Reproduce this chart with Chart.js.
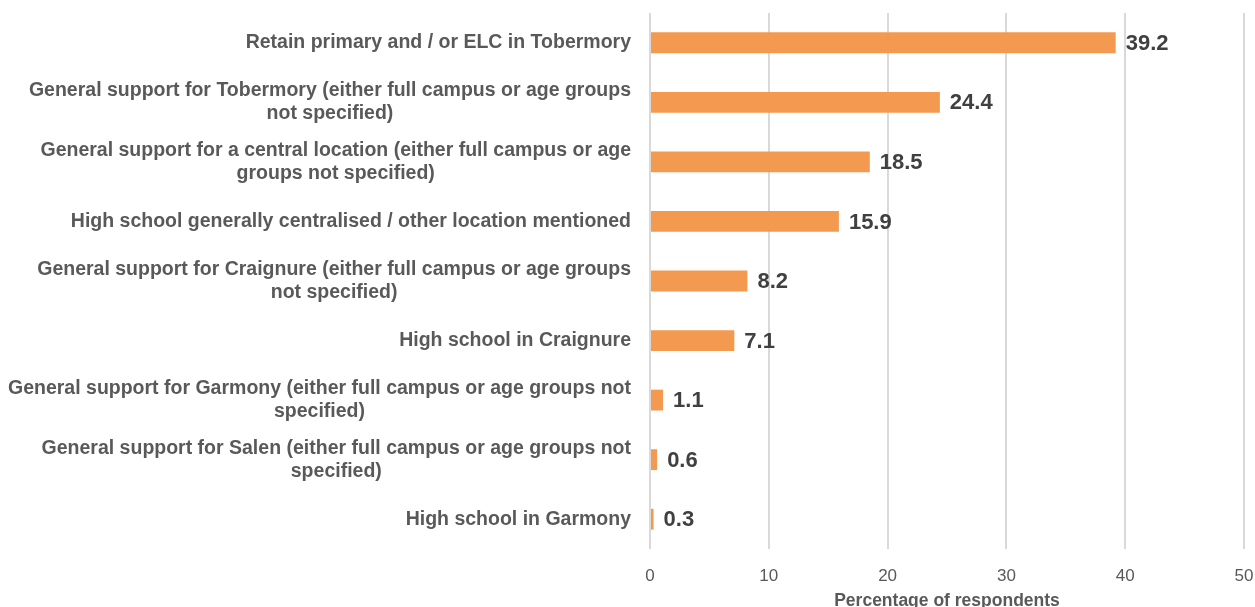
<!DOCTYPE html>
<html>
<head>
<meta charset="utf-8">
<script src="https://cdn.jsdelivr.net/npm/chart.js@4"></script>
<style>
html,body{margin:0;padding:0;background:#fff;}
#wrap{width:1255px;height:607px;position:relative;}
</style>
</head>
<body>
<div id="wrap"><canvas id="c" width="1255" height="607"></canvas></div>
<script>
const categories = [
  "Retain primary and / or ELC in Tobermory",
  ["General support for Tobermory (either full campus or age groups", "not specified)"],
  ["General support for a central location (either full campus or age", "groups not specified)"],
  "High school generally centralised / other location mentioned",
  ["General support for Craignure (either full campus or age groups", "not specified)"],
  "High school in Craignure",
  ["General support for Garmony (either full campus or age groups not", "specified)"],
  ["General support for Salen (either full campus or age groups not", "specified)"],
  "High school in Garmony"
];
const values = [39.2, 24.4, 18.5, 15.9, 8.2, 7.1, 1.1, 0.6, 0.3];
const xTicks = [0, 10, 20, 30, 40, 50];
const xTitle = "Percentage of respondents";

const FONT = '"Liberation Sans", Arial, sans-serif';

const customLabels = {
  id: 'customLabels',
  afterDatasetsDraw(chart) {
    const ctx = chart.ctx;
    const meta = chart.getDatasetMeta(0);
    const yScale = chart.scales.y;
    ctx.save();
    // value labels
    ctx.font = 'bold 22px ' + FONT;
    ctx.fillStyle = '#404040';
    ctx.textAlign = 'left';
    ctx.textBaseline = 'middle';
    meta.data.forEach((bar, i) => {
      ctx.fillText(values[i].toFixed(1), bar.x + 10, bar.y + 1);
    });
    // category labels: block right-aligned, lines centered
    ctx.font = 'bold 19.5px ' + FONT;
    ctx.fillStyle = '#595959';
    ctx.textAlign = 'center';
    const lineH = 23;
    const rightX = chart.chartArea.left - 19;
    categories.forEach((lab, i) => {
      const lines = Array.isArray(lab) ? lab : [lab];
      const w = Math.max(...lines.map(l => ctx.measureText(l).width));
      const cx = rightX - w / 2;
      const cy = yScale.getPixelForValue(i);
      const y0 = cy - (lines.length - 1) * lineH / 2;
      lines.forEach((l, j) => ctx.fillText(l, cx, y0 + j * lineH));
    });
    ctx.restore();
  }
};

new Chart(document.getElementById('c'), {
  type: 'bar',
  data: {
    labels: categories,
    datasets: [{
      data: values,
      backgroundColor: '#F39A50',
      borderWidth: 0,
      barPercentage: 0.7,
      categoryPercentage: 0.5
    }]
  },
  options: {
    indexAxis: 'y',
    responsive: false,
    animation: false,
    layout: { padding: { top: 13, right: 11, left: 0, bottom: 0 } },
    plugins: {
      legend: { display: false },
      tooltip: { enabled: false }
    },
    scales: {
      x: {
        min: 0, max: 50,
        afterBuildTicks(scale) { scale.ticks = xTicks.map(v => ({ value: v })); },
        grid: { color: '#d9d9d9', lineWidth: 2, drawTicks: false },
        border: { display: false },
        ticks: {
          color: '#595959',
          font: { family: FONT, size: 17 },
          padding: 17
        },
        title: {
          display: true,
          text: xTitle,
          color: '#595959',
          font: { family: FONT, size: 17.5, weight: 'bold', lineHeight: 1 },
          padding: { top: 0, bottom: -3 }
        },
        afterFit(scale) {
          scale.height = 58;
          scale.paddingLeft = 0;
          scale.paddingRight = 0;
        }
      },
      y: {
        grid: { display: false, drawTicks: false },
        border: { display: false },
        ticks: {
          callback: () => '',
          autoSkip: false
        },
        afterFit(scale) {
          scale.width = 650;
          scale.paddingTop = 0;
          scale.paddingBottom = 0;
        }
      }
    }
  },
  plugins: [customLabels]
});
</script>
</body>
</html>
